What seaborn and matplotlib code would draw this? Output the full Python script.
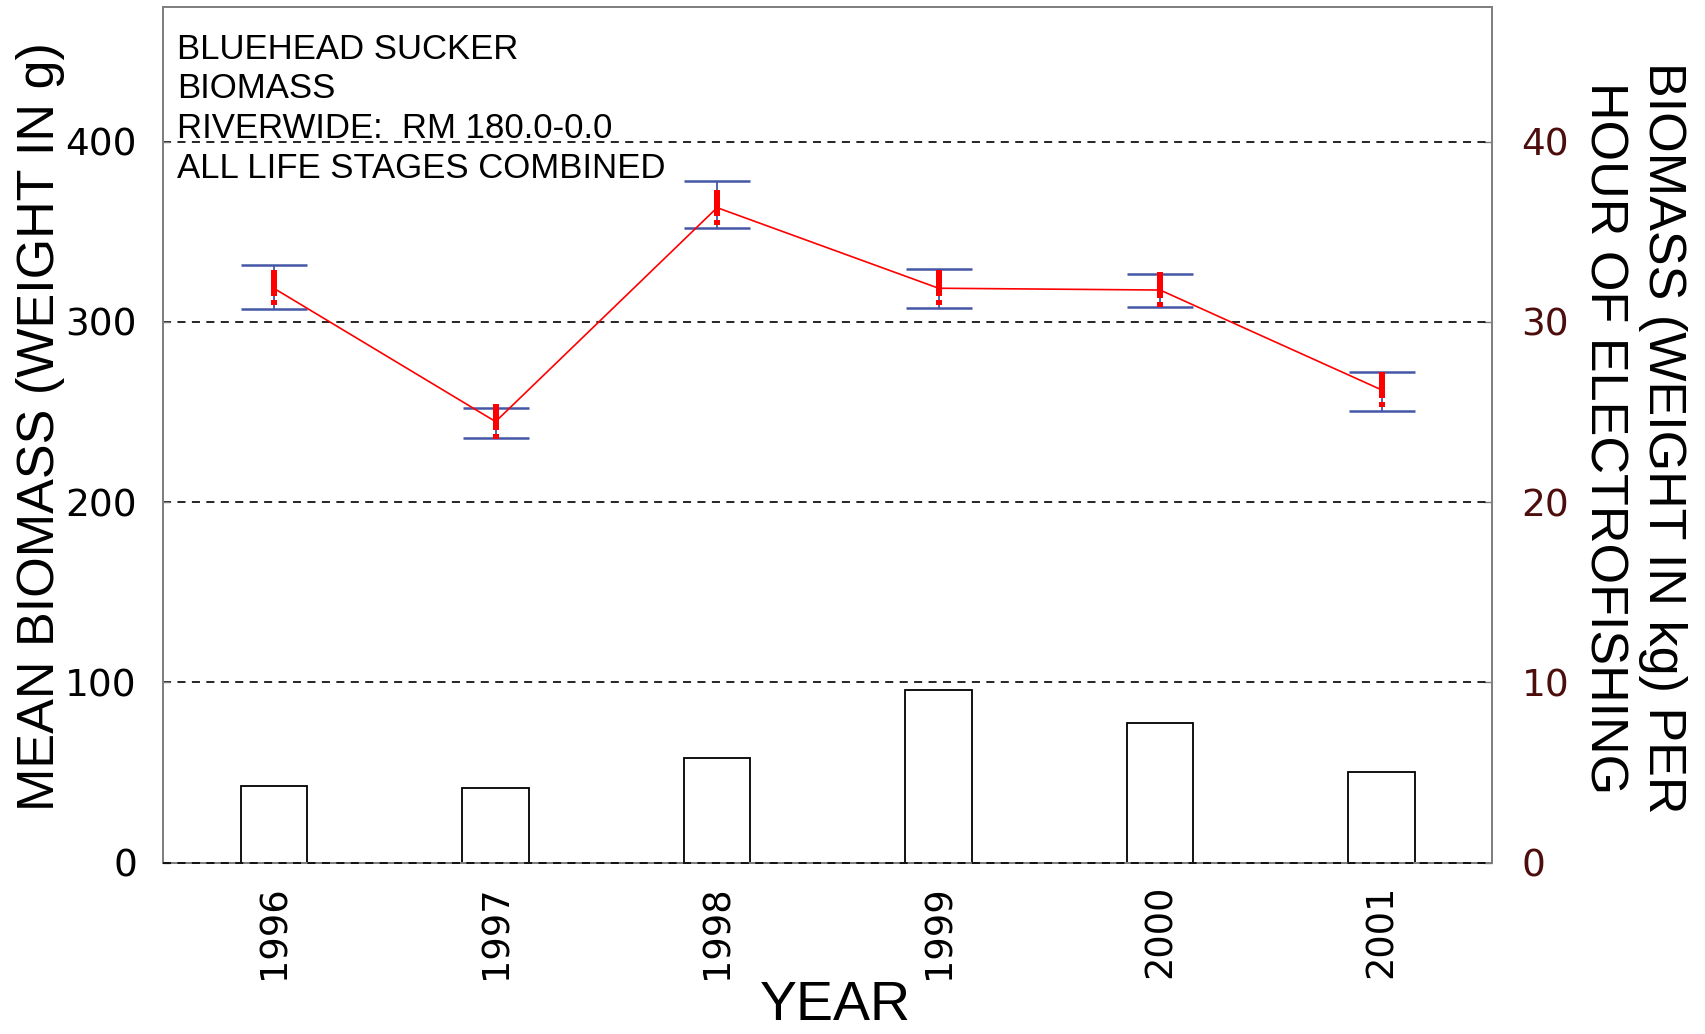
import numpy as np
import pandas as pd
import matplotlib
matplotlib.use("Agg")
import matplotlib.pyplot as plt
from matplotlib.path import Path
import seaborn as sns

# ---- data ----
years = ["1996", "1997", "1998", "1999", "2000", "2001"]
mean_weight_g = [318.6, 244.7, 363.4, 318.7, 317.7, 262.3]
upper_g = [331.6, 252.1, 378.4, 329.4, 326.6, 272.2]
lower_g = [307.0, 235.4, 352.3, 307.9, 308.3, 250.8]
biomass_kg_per_hr = [4.24, 4.13, 5.81, 9.56, 7.77, 5.03]

left_ticks = [0, 100, 200, 300, 400]
right_ticks = [0, 10, 20, 30, 40]
info_lines = ["BLUEHEAD SUCKER", "BIOMASS", "RIVERWIDE:  RM 180.0-0.0",
              "ALL LIFE STAGES COMBINED"]

sns.set_theme(style="white")
plt.rcParams["font.family"] = ["Liberation Sans", "DejaVu Sans"]
plt.rcParams["lines.scale_dashes"] = False
plt.rcParams["text.color"] = "black"
plt.rcParams["axes.labelcolor"] = "black"

df = pd.DataFrame({
    "year": years,
    "pos": np.arange(len(years)),
    "mean": mean_weight_g,
    "upper": upper_g,
    "lower": lower_g,
    "cpue": biomass_kg_per_hr,
})

fig = plt.figure(figsize=(17.05, 10.34), dpi=100, facecolor="white")
ax = fig.add_axes([0.0958, 0.1657, 0.7795, 0.828])
ax2 = ax.twinx()

# bars: biomass per hour of electrofishing (right axis)
sns.barplot(data=df, x="year", y="cpue", ax=ax2, color="white",
            edgecolor="black", linewidth=1.3, width=0.3, saturation=1,
            errorbar=None)

# blue interval with caps (left axis)
yerr = np.vstack([df["mean"] - df["lower"], df["upper"] - df["mean"]])
ax.errorbar(df["pos"], df["mean"], yerr=yerr, fmt="none", ecolor="#4457a6",
            elinewidth=1.3, capsize=24, capthick=1.8, zorder=3)

# red mean symbol: a bar with a dot beneath it
mark = Path(
    [(-2.6, 18.5), (2.6, 18.5), (2.6, -8.5), (-2.6, -8.5), (-2.6, 18.5),
     (-2.8, -12.3), (2.8, -12.3), (2.8, -17.5), (-2.8, -17.5), (-2.8, -12.3)],
    [Path.MOVETO, Path.LINETO, Path.LINETO, Path.LINETO, Path.CLOSEPOLY,
     Path.MOVETO, Path.LINETO, Path.LINETO, Path.LINETO, Path.CLOSEPOLY],
)
sns.lineplot(data=df, x="pos", y="mean", ax=ax, color="red", linewidth=1.2,
             marker=mark, markersize=26.6, markeredgewidth=0,
             markerfacecolor="red", zorder=4)

# put the line axes above the bar axes
ax.set_zorder(ax2.get_zorder() + 1)
ax.patch.set_visible(False)

ax.set_xlim(-0.5, len(years) - 0.5)
ax.set_ylim(0, 475)
ax2.set_ylim(0, 47.5)

ax.set_yticks(left_ticks)
ax2.set_yticks(right_ticks)
ax.set_xticks(df["pos"])
ax.set_xticklabels(years, rotation=90, family="DejaVu Sans", fontsize=26.5)

dash = (0, (5.8, 4.6))
ax.yaxis.grid(True, color="black", linestyle=dash, linewidth=1.2)
ax.xaxis.grid(False)
ax2.grid(False)

for a in (ax, ax2):
    for s in a.spines.values():
        s.set_color("#808080")
        s.set_linewidth(1.4)
# dashed zero line over the bottom frame
ax.axhline(0, color="black", linestyle=dash, linewidth=1.2, zorder=5,
           clip_on=False)

ax.tick_params(axis="y", direction="in", length=5, width=1, color="#808080",
               pad=19, labelsize=27, labelcolor="black")
ax.tick_params(axis="x", length=0, pad=16, labelcolor="black")
ax2.tick_params(axis="y", direction="in", length=6, width=1, color="#808080",
                pad=21, labelsize=27, labelcolor="#4d0d0d")
for lab in ax.get_yticklabels() + ax2.get_yticklabels():
    lab.set_family("DejaVu Sans")

ax.set_xlabel("YEAR", fontsize=40, va="center")
ax.xaxis.set_label_coords(0.5054, -0.168)
ax.set_ylabel("MEAN BIOMASS (WEIGHT IN g)", fontsize=37.5, va="center")
ax.yaxis.set_label_coords(-0.0928, 0.509)
ax2.set_ylabel("BIOMASS (WEIGHT IN kg) PER\nHOUR OF ELECTROFISHING",
               fontsize=37.5, rotation=-90, rotation_mode="anchor",
               va="center", ha="center", linespacing=1.26)
ax2.yaxis.set_label_coords(1.106, 0.496)

ax.text(0.0103, 0.9695, "\n".join(info_lines), transform=ax.transAxes,
        ha="left", va="top", fontsize=25, linespacing=1.255, color="black")

fig.savefig("out.png", dpi=100, facecolor="white")
